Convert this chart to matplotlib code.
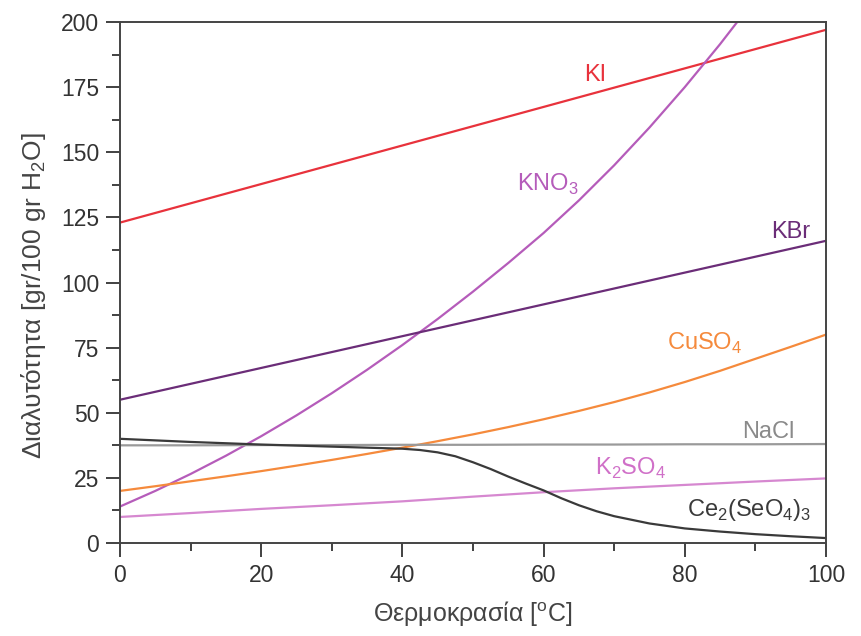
import numpy as np
from matplotlib import pyplot as plt
from matplotlib.ticker import MultipleLocator

plt.rcParams['font.family'] = ['Liberation Sans', 'DejaVu Sans']

# solubility data [gr / 100 gr H2O]
temp = [0, 10, 20, 30, 40, 50, 60, 70, 80, 90, 100]
ki = [123, 130.4, 137.8, 145.2, 152.6, 160, 167.4, 174.8, 182.2, 189.6, 197]
kbr = [55, 61.1, 67.2, 73.3, 79.4, 85.5, 91.6, 97.7, 103.8, 109.9, 116]
nacl = [37.5, 37.5, 37.6, 37.6, 37.7, 37.7, 37.8, 37.8, 37.9, 37.9, 38]
k2so4 = [10, 11.5, 13.1, 14.5, 16, 17.8, 19.5, 21, 22.3, 23.6, 24.8]

temp5 = [0, 5, 10, 15, 20, 25, 30, 35, 40, 45, 50, 55, 60, 65, 70, 75, 80, 85, 90, 95, 100]
cuso4 = [20, 21.8, 23.7, 25.6, 27.6, 29.7, 31.9, 34.2, 36.6, 39.1, 41.7, 44.5, 47.5, 50.7,
         54.1, 57.8, 61.8, 66.1, 70.7, 75.3, 80]

temp_kno3 = [0, 5, 10, 15, 20, 25, 30, 35, 40, 45, 50, 55, 60, 65, 70, 75, 80, 85, 90]
kno3 = [14, 20, 26.5, 33.5, 41, 49, 57.5, 66.5, 76, 86, 96.5, 107.5, 119, 131.5, 145,
        159.5, 175, 191.5, 209]

temp_ce = [0, 10, 20, 30, 40, 42.5, 45, 47.5, 50, 52.5, 55, 57.5, 60, 62.5, 65, 67.5,
           70, 75, 80, 85, 90, 95, 100]
ce2seo4 = [40, 38.8, 37.8, 37, 36.2, 35.7, 34.8, 33.3, 31, 28.4, 25.5, 22.8, 20.2, 17.2,
           14.5, 12.2, 10.3, 7.5, 5.6, 4.4, 3.4, 2.6, 1.9]

fig = plt.figure(figsize=(8.62, 6.36), dpi=100)
ax = fig.add_axes([0.1392, 0.1462, 0.819, 0.8192])

ax.plot(temp, ki, color='#e8323c', lw=1.6)
ax.plot(temp_kno3, kno3, color='#b55cba', lw=1.6)
ax.plot(temp, kbr, color='#6b2d78', lw=1.6)
ax.plot(temp5, cuso4, color='#f58a3c', lw=1.6)
ax.plot(temp, nacl, color='#9a9a9a', lw=1.6)
ax.plot(temp, k2so4, color='#d688d0', lw=1.6)
ax.plot(temp_ce, ce2seo4, color='#3a3a3a', lw=1.6)

fs = 17
ax.text(67.3, 179.5, 'KI', color='#e8323c', fontsize=fs, ha='center', va='center')
ax.text(56.3, 137.5, r'KNO$_\mathregular{3}$', color='#b55cba', fontsize=fs, ha='left', va='center')
ax.text(95, 119.5, 'KBr', color='#6b2d78', fontsize=fs, ha='center', va='center')
ax.text(77.5, 76.8, r'CuSO$_\mathregular{4}$', color='#f58a3c', fontsize=fs, ha='left', va='center')
ax.text(91.9, 42.6, 'NaCl', color='#8a8a8a', fontsize=fs, ha='center', va='center')
ax.text(67.3, 28.8, r'K$_\mathregular{2}$SO$_\mathregular{4}$', color='#d070c8', fontsize=fs,
        ha='left', va='center')
ax.text(80.3, 12.7, r'Ce$_\mathregular{2}$(SeO$_\mathregular{4}$)$_\mathregular{3}$', color='#3a3a3a',
        fontsize=fs, ha='left', va='center')

ax.set_xlim(0, 100)
ax.set_ylim(0, 200)
ax.xaxis.set_major_locator(MultipleLocator(20))
ax.xaxis.set_minor_locator(MultipleLocator(10))
ax.yaxis.set_major_locator(MultipleLocator(25))
ax.yaxis.set_minor_locator(MultipleLocator(12.5))
ax.tick_params(which='major', direction='out', length=10, width=1.3, color='#333333',
               labelsize=16.5, labelcolor='#333333', pad=5)
ax.tick_params(which='minor', direction='out', length=6, width=1.3, color='#333333')
for s in ax.spines.values():
    s.set_color('#444444')
    s.set_linewidth(1.4)

ax.set_xlabel(r'Θερμοκρασία [$^\mathregular{o}$C]', fontsize=18, color='#444444')
ax.set_ylabel(r'Διαλυτότητα [gr/100 gr H$_\mathregular{2}$O]', fontsize=19, color='#444444')
ax.xaxis.set_label_coords(0.5, -0.108)
ax.yaxis.set_label_coords(-0.102, 0.475)

fig.savefig('out.png', dpi=100)
